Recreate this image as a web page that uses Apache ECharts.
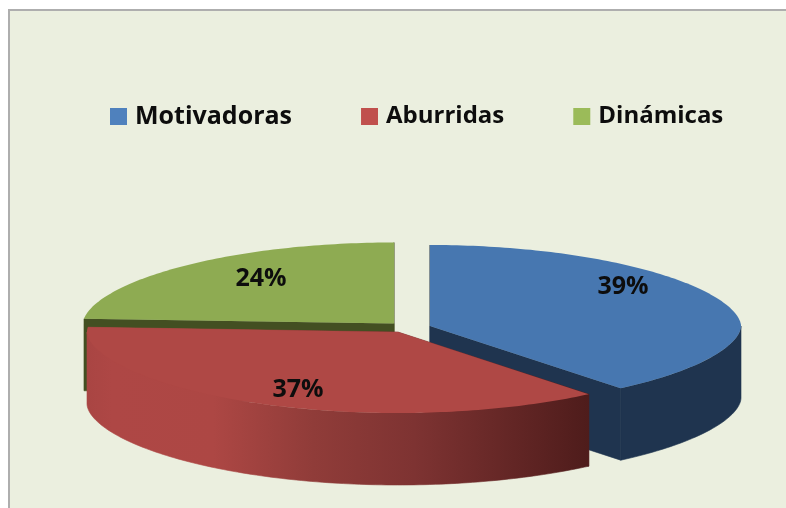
<!DOCTYPE html>
<html>
<head>
<meta charset="utf-8">
<style>
  html, body { margin: 0; padding: 0; background: #fff; }
  #chart { width: 786px; height: 508px; }
</style>
<script src="https://cdn.jsdelivr.net/npm/echarts@6/dist/echarts.min.js"></script>
</head>
<body>
<div id="chart"></div>
<script>
var categories = ['Motivadoras', 'Aburridas', 'Dinámicas']
var values = [39, 37, 24]
var legendColors = ['#4f81bd', '#c0504d', '#9bbb59']

// layout of the exploded slices, same order as categories
var centers = [[430, 326], [398, 332], [394, 323.5]]
var labelPos = [[623, 287], [298, 390], [261, 279]]
var topColors = ['#4777b0', '#af4845', '#8eab52']
var sideColors = ['#1f344f', null, '#434f22']
var rx = 311
var ry = 81
var depth = 72
var total = values.reduce(function(a, b) { return a + b }, 0)

var redSide = {
  type: 'linear', global: true, x: 87, y: 0, x2: 590, y2: 0,
  colorStops: [
    { offset: 0, color: '#a94543' },
    { offset: 0.05, color: '#ae4745' },
    { offset: 0.25, color: '#ad4744' },
    { offset: 0.45, color: '#903c39' },
    { offset: 0.65, color: '#7e3332' },
    { offset: 1, color: '#4e1c1b' }
  ]
}

// the tilted view pushes the slice edges a little round the ellipse
function viewAngle(deg) {
  return deg + (1 - Math.cos(deg * Math.PI / 180))
}

function pt(i, deg, dy) {
  var a = deg * Math.PI / 180
  var c = Math.cos(a)
  // outline is a bit flatter than a true ellipse
  var yy = (c < 0 ? -1 : 1) * Math.pow(Math.abs(c), 1.12)
  return [centers[i][0] + rx * Math.sin(a), centers[i][1] - ry * yy + (dy || 0)]
}

function arc(i, from, to, dy) {
  var pts = []
  var n = Math.max(2, Math.ceil(Math.abs(to - from)))
  for (var k = 0; k <= n; k++) {
    pts.push(pt(i, from + (to - from) * k / n, dy))
  }
  return pts
}

function sidePoly(points, side) {
  return {
    type: 'polygon',
    shape: { points: points },
    style: { fill: side, stroke: side, lineWidth: 0.6 }
  }
}

function wall(i, deg, side) {
  var center = centers[i]
  return sidePoly([center, pt(i, deg), pt(i, deg, depth), [center[0], center[1] + depth]], side)
}

function renderSlice(i) {
  return function(params, api) {
    var before = values.slice(0, i).reduce(function(a, b) { return a + b }, 0)
    var start = viewAngle(before / total * 360)
    var end = viewAngle((before + api.value(0)) / total * 360)
    var side = sideColors[i] || redSide
    var children = [wall(i, start, side), wall(i, end, side)]
    // only the front half of the rim can be seen
    var from = Math.max(start, 90)
    var to = Math.min(end, 270)
    if (to > from) {
      children.push(sidePoly(arc(i, from, to, 0).concat(arc(i, to, from, depth)), side))
    }
    children.push({
      type: 'polygon',
      shape: { points: [centers[i]].concat(arc(i, start, end, 0)) },
      style: { fill: topColors[i] }
    })
    children.push({
      type: 'text',
      x: labelPos[i][0],
      y: labelPos[i][1],
      style: {
        text: api.value(0) + '%',
        fill: '#0d0d0d',
        font: 'bold 25px "Open Sans"',
        align: 'center',
        verticalAlign: 'middle'
      }
    })
    return { type: 'group', children: children }
  }
}

var chart = echarts.init(document.getElementById('chart'))
chart.setOption({
  animation: false,
  backgroundColor: '#ffffff',
  graphic: [{
    type: 'rect',
    z: -1,
    silent: true,
    shape: { x: 9, y: 10, width: 800, height: 520 },
    style: { fill: '#ebefdf', stroke: '#aeaeae', lineWidth: 2 }
  }],
  legend: {
    data: categories.map(function(name, i) {
      return { name: name, textStyle: { fontSize: i === 0 ? 25 : 24 } }
    }),
    left: 105,
    top: 99,
    itemWidth: 17,
    itemHeight: 17,
    itemGap: 69,
    icon: 'rect',
    selectedMode: false,
    textStyle: {
      fontFamily: 'Open Sans',
      fontWeight: 'bold',
      fontSize: 24,
      color: '#0d0d0d',
      padding: [0, 0, 0, 3]
    }
  },
  series: categories.map(function(name, i) {
    return {
      name: name,
      type: 'custom',
      coordinateSystem: 'none',
      z: i === 1 ? 3 : 2,
      silent: true,
      itemStyle: { color: legendColors[i] },
      renderItem: renderSlice(i),
      data: [[values[i]]]
    }
  })
})
</script>
</body>
</html>
